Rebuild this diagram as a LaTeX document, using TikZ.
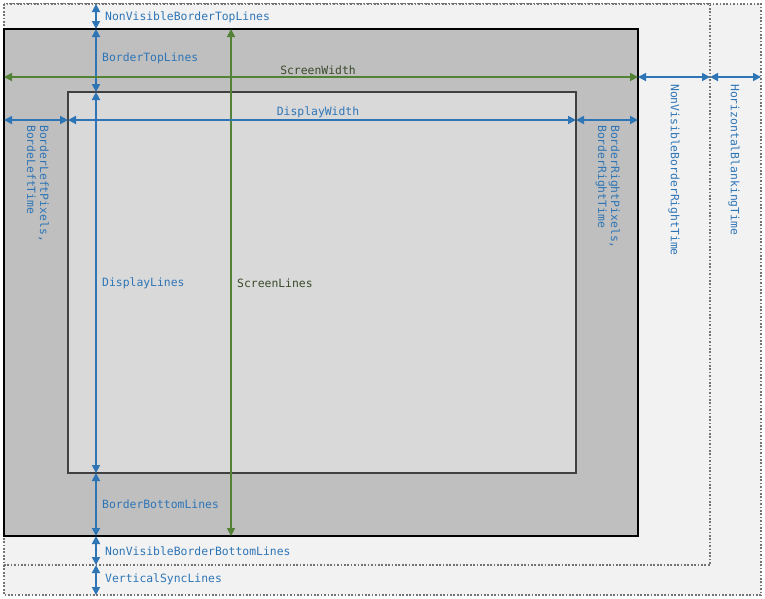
\documentclass[tikz,border=0pt]{standalone}
\usepackage{fontspec}
\setmonofont{DejaVu Sans Mono}
\usepackage{xcolor}
\usetikzlibrary{arrows.meta, positioning}
\definecolor{dimblue}{HTML}{2E75B6}
\definecolor{dimgreen}{HTML}{538135}
\definecolor{greentext}{HTML}{3A4A2B}
\definecolor{blankfill}{HTML}{F2F2F2}
\definecolor{screenfill}{HTML}{BFBFBF}
\definecolor{displayfill}{HTML}{D9D9D9}

\begin{document}
\begin{tikzpicture}[x=1pt,y=-1pt]
 \tikzstyle{blankbox}=[draw=black!55,fill=blankfill,line width=1.7pt,
   dash pattern=on 1.7pt off 1.7pt]
 \tikzstyle{dimarrow}=[draw=dimblue,line width=1.7pt,
   {Triangle[length=8pt,width=8pt]}-{Triangle[length=8pt,width=8pt]}]
 \tikzstyle{scrarrow}=[dimarrow,draw=dimgreen]
 \tikzstyle{dimlabel}=[text=dimblue,inner sep=1pt,
   font=\ttfamily\fontsize{11.4}{13}\selectfont]
 \tikzstyle{scrlabel}=[dimlabel,text=greentext]
 \useasboundingbox (0,0) rectangle (765,598);
 % blanking areas and screen
 \draw[blankbox] (4,4) rectangle (761,595);
 \draw[blankbox] (4,4) rectangle (710,565);
 \fill[blankfill] (5,5) rectangle (709,564);
 \draw[fill=screenfill,line width=1.8pt] (4,29) rectangle (638,536);
 \draw[fill=displayfill,draw=black!75,line width=1.4pt] (68,92) rectangle (576,473);
 % vertical ticks
 \coordinate (v0) at (96,4);
 \coordinate (v1) at (96,29);
 \coordinate (v2) at (96,92);
 \coordinate (v3) at (96,473);
 \coordinate (v4) at (96,536);
 \coordinate (v5) at (96,565);
 \coordinate (v6) at (96,595);
 \draw[dimarrow] (v0) -- (v1);
 \draw[dimarrow] (v1) -- (v2);
 \draw[dimarrow] (v2) -- (v3);
 \draw[dimarrow] (v3) -- (v4);
 \draw[dimarrow] (v4) -- (v5);
 \draw[dimarrow] (v5) -- (v6);
 \node (nvtop) [dimlabel,anchor=west] at (104,17) {NonVisibleBorderTopLines};
 \node (btop) [dimlabel,anchor=west] at (101,58) {BorderTopLines};
 \node (dlines) [dimlabel,anchor=west] at (101,283) {DisplayLines};
 \node (bbot) [dimlabel,anchor=west] at (101,504) {BorderBottomLines};
 \node (nvbot) [dimlabel,anchor=west] at (104,551) {NonVisibleBorderBottomLines};
 \node (vsync) [dimlabel,anchor=west] at (104,579) {VerticalSyncLines};
 % screen size
 \coordinate (s0) at (231,29);
 \coordinate (s1) at (231,536);
 \coordinate (w0) at (4,77);
 \coordinate (w1) at (638,77);
 \draw[scrarrow] (s0) -- (s1);
 \draw[scrarrow] (w0) -- (w1);
 \node (slines) [scrlabel,anchor=west] at (236,283) {ScreenLines};
 \node (swidth) [scrlabel,anchor=south] at (318,76) {ScreenWidth};
 % horizontal ticks
 \coordinate (h0) at (4,120);
 \coordinate (h1) at (68,120);
 \coordinate (h2) at (576,120);
 \coordinate (h3) at (638,120);
 \coordinate (r0) at (710,77);
 \coordinate (r1) at (761,77);
 \draw[dimarrow] (h0) -- (h1);
 \draw[dimarrow] (h1) -- (h2);
 \draw[dimarrow] (h2) -- (h3);
 \draw[dimarrow] (w1) -- (r0);
 \draw[dimarrow] (r0) -- (r1);
 \node (dwidth) [dimlabel,anchor=south] at (318,119) {DisplayWidth};
 \node (bleft) [dimlabel,rotate=-90,anchor=north west,align=left]
   at (50,124) {BorderLeftPixels,\\BordeLeftTime};
 \node (bright) [dimlabel,rotate=-90,anchor=north west,align=left]
   at (621,124) {BorderRightPixels,\\BorderRightTime};
 \node (nvright) [dimlabel,rotate=-90,anchor=west] at (674,83) {NonVisibleBorderRightTime};
 \node (hblank) [dimlabel,rotate=-90,anchor=west] at (734,83) {HorizontalBlankingTime};
\end{tikzpicture}
\end{document}
